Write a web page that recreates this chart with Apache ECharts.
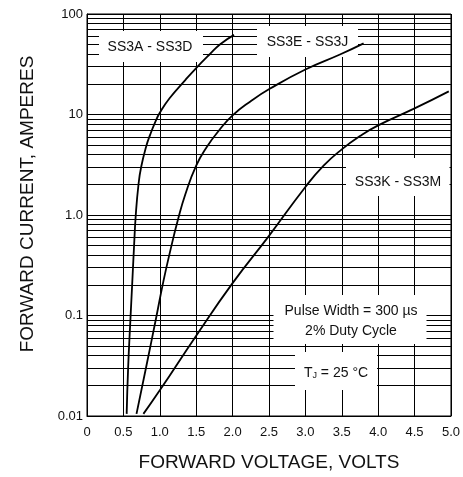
<!DOCTYPE html>
<html>
<head>
<meta charset="utf-8">
<script src="https://cdn.jsdelivr.net/npm/echarts@6/dist/echarts.min.js"></script>
<style>
html,body{margin:0;padding:0;background:#fff;}
#c{width:463px;height:477px;}
</style>
</head>
<body>
<div id="c"></div>
<script>
// ---- data ----
const seriesNames = ['SS3A - SS3D', 'SS3E - SS3J', 'SS3K - SS3M'];
const vA = [0.545, 0.565, 0.597, 0.62, 0.647, 0.67, 0.707, 0.744, 0.813, 0.868, 0.94, 1.0, 1.134, 1.35, 1.5, 1.69, 1.83, 2.02];
const iA = [0.0105, 0.03, 0.093, 0.2, 0.5, 1, 2, 3, 4.8, 6.3, 8.5, 10.4, 14.5, 22, 29, 40, 50, 62];
const vB = [0.68, 0.81, 0.95, 1.05, 1.15, 1.25, 1.35, 1.5, 1.65, 1.81, 2.0, 2.245, 2.51, 3.0, 3.475, 3.80];
const iB = [0.0105, 0.03, 0.095, 0.22, 0.46, 0.9, 1.6, 3.1, 4.8, 6.9, 9.8, 13.5, 18, 28, 39.5, 51];
const vC = [0.775, 1.0, 1.5, 2.0, 2.5, 3.0, 3.25, 3.5, 3.75, 4.0, 4.5, 4.97];
const iC = [0.0105, 0.018, 0.063, 0.21, 0.62, 1.9, 3.1, 4.5, 6.1, 7.8, 11.5, 17];

const xTicks = [0, 0.5, 1.0, 1.5, 2.0, 2.5, 3.0, 3.5, 4.0, 4.5, 5.0];
const xTickLabels = ['0', '0.5', '1.0', '1.5', '2.0', '2.5', '3.0', '3.5', '4.0', '4.5', '5.0'];
const yDecades = [0.01, 0.1, 1, 10, 100];
const yTickLabels = ['0.01', '0.1', '1.0', '10', '100'];
const minorMultipliers = [2, 3, 4, 5, 6, 7, 8, 9];

const xTitle = 'FORWARD VOLTAGE, VOLTS';
const yTitle = 'FORWARD CURRENT, AMPERES';
const noteLines = ['Pulse Width = 300 \u00b5s', '2% Duty Cycle'];
const tjNote = 'T|J| = 25 \u00b0C';

// ---- build ----
const FONT = '"Liberation Sans", Arial, Helvetica, sans-serif';
function pairs(xs, ys) { return xs.map((x, i) => [x, ys[i]]); }
const minorLines = [];
yDecades.slice(0, -1).forEach(d => minorMultipliers.forEach(m => minorLines.push({ yAxis: d * m })));

const chart = echarts.init(document.getElementById('c'), null, { renderer: 'canvas' });

function box(x, y, w, h) {
  return { type: 'rect', z: 50, shape: { x: x, y: y, width: w, height: h }, style: { fill: '#fff' }, silent: true };
}
function txt(x, y, t, size) {
  return { type: 'text', z: 60, x: x, y: y, style: { text: t, fill: '#111', fontSize: size, fontFamily: FONT, align: 'center', verticalAlign: 'middle' }, silent: true };
}
function curve(name, xs, ys) {
  return { type: 'line', name: name, data: pairs(xs, ys), z: 100, showSymbol: false, symbol: 'none',
    smooth: 0.5, lineStyle: { color: '#000', width: 1.8 } };
}

const tjParts = tjNote.split('|');

const option = {
  backgroundColor: '#fff',
  animation: false,
  grid: { left: 87, right: 12, top: 14, bottom: 60, show: true, borderColor: '#000', borderWidth: 1, backgroundColor: 'transparent' },
  xAxis: {
    type: 'value', min: 0, max: 5, interval: 0.5,
    name: xTitle, nameLocation: 'middle', nameGap: 37,
    nameTextStyle: { fontSize: 19, color: '#111', fontFamily: FONT },
    axisLine: { show: true, lineStyle: { color: '#000', width: 1 } },
    axisTick: { show: false },
    axisLabel: { color: '#111', fontSize: 13, fontFamily: FONT, margin: 10,
      formatter: v => { const i = xTicks.findIndex(t => Math.abs(t - v) < 1e-6); return i >= 0 ? xTickLabels[i] : ''; } },
    splitLine: { show: true, lineStyle: { color: '#000', width: 1 } }
  },
  yAxis: {
    type: 'log', logBase: 10, min: 0.01, max: 100,
    name: yTitle, nameLocation: 'middle', nameGap: 50,
    nameTextStyle: { fontSize: 19, color: '#111', fontFamily: FONT, padding: [0, 0, 0, 22] },
    axisLine: { show: true, lineStyle: { color: '#000', width: 1 } },
    axisTick: { show: false },
    axisLabel: { color: '#111', fontSize: 13, fontFamily: FONT, margin: 4,
      formatter: v => { const e = Math.round(Math.log10(v)); const i = yDecades.findIndex(d => Math.round(Math.log10(d)) === e); return i >= 0 ? yTickLabels[i] : ''; } },
    splitLine: { show: true, lineStyle: { color: '#000', width: 1 } }
  },
  series: [
    {
      type: 'line', name: 'minor', data: [], z: 1, silent: true,
      markLine: { z: 1, silent: true, symbol: ['none', 'none'], animation: false,
        label: { show: false }, lineStyle: { color: '#000', width: 1, type: 'solid' },
        emphasis: { disabled: true }, data: minorLines }
    },
    curve(seriesNames[0], vA, iA),
    curve(seriesNames[1], vB, iB),
    curve(seriesNames[2], vC, iC)
  ],
  graphic: [
    box(99, 31, 104, 31), txt(150, 47, seriesNames[0], 14),
    box(257, 26, 101, 31), txt(307.5, 42, seriesNames[1], 14),
    box(346, 158, 103.5, 38), txt(398, 182, seriesNames[2], 14),
    box(273.5, 295, 153, 49), txt(351, 311, noteLines[0], 14), txt(351, 331, noteLines[1], 14),
    box(295, 352, 82, 38),
    { type: 'text', z: 60, x: 336, y: 373, silent: true,
      style: { text: '{a|' + tjParts[0] + '}{b|' + tjParts[1] + '}{a|' + tjParts[2] + '}', align: 'center', verticalAlign: 'middle',
        rich: { a: { fontSize: 14, fontFamily: FONT, fill: '#111', color: '#111' },
                b: { fontSize: 9, fontFamily: FONT, fill: '#111', color: '#111', verticalAlign: 'bottom', padding: [5, 0, 0, 0] } } } }
  ]
};
chart.setOption(option);
</script>
</body>
</html>
